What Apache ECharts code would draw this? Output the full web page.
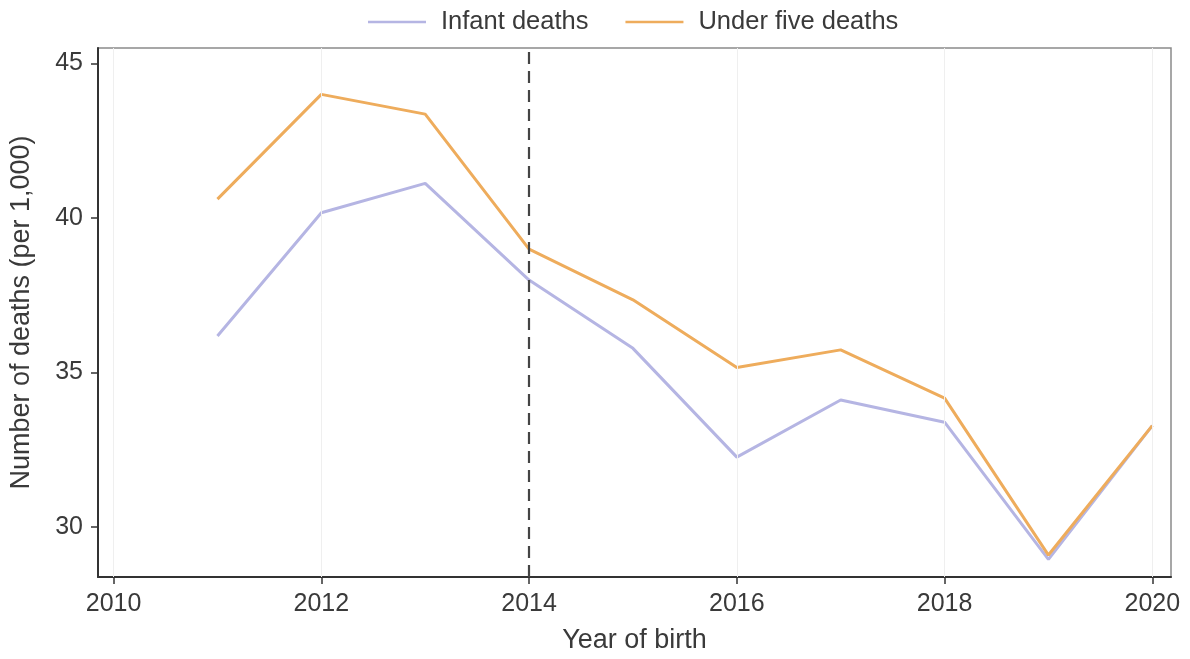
<!DOCTYPE html>
<html>
<head>
<meta charset="utf-8">
<script src="https://cdn.jsdelivr.net/npm/echarts@6/dist/echarts.min.js"></script>
<style>
html,body{margin:0;padding:0;background:#fff;}
#main{width:1190px;height:659px;}
</style>
</head>
<body>
<div id="main"></div>
<script>
const years = [2011, 2012, 2013, 2014, 2015, 2016, 2017, 2018, 2019, 2020];
const infantDeaths = [36.18, 40.17, 41.12, 37.99, 35.78, 32.26, 34.11, 33.39, 28.95, 33.28];
const underFiveDeaths = [40.61, 44.00, 43.36, 38.99, 37.35, 35.16, 35.73, 34.17, 29.09, 33.28];
const xTicks = [2010, 2012, 2014, 2016, 2018, 2020];
const yTicks = [30, 35, 40, 45];
const cutoffYear = 2014;

const FONT = 'Liberation Sans';
const chart = echarts.init(document.getElementById('main'));
chart.setOption({
  animation: false,
  backgroundColor: '#ffffff',
  textStyle: { fontFamily: FONT },
  legend: {
    top: 4,
    left: 363,
    icon: 'rect',
    itemWidth: 58,
    itemHeight: 2.5,
    itemGap: 37,
    textStyle: { fontSize: 25.5, color: '#3a3a3a', fontFamily: FONT, padding: [0, 0, 0, 10] },
    data: ['Infant deaths', 'Under five deaths']
  },
  grid: {
    left: 98, right: 19, top: 48, bottom: 82,
    show: true, borderColor: '#8a8a8a', borderWidth: 1.5
  },
  xAxis: {
    type: 'value',
    min: 2009.85, max: 2020.18,
    name: 'Year of birth',
    nameLocation: 'middle',
    nameGap: 50,
    nameTextStyle: { fontSize: 27, color: '#3a3a3a', fontFamily: FONT },
    axisLine: { show: true, lineStyle: { color: '#333', width: 2 } },
    axisTick: { show: true, length: 7, customValues: xTicks, lineStyle: { color: '#333', width: 1.5 } },
    axisLabel: { customValues: xTicks, fontSize: 25, color: '#3a3a3a', margin: 15, fontFamily: FONT, formatter: v => String(v) },
    splitLine: { show: false }
  },
  yAxis: {
    type: 'value',
    min: 28.38, max: 45.5,
    name: 'Number of deaths (per 1,000)',
    nameLocation: 'middle',
    nameGap: 63,
    nameTextStyle: { fontSize: 27, color: '#3a3a3a', fontFamily: FONT },
    axisLine: { show: true, lineStyle: { color: '#333', width: 2 } },
    axisTick: { show: true, length: 7, customValues: yTicks, lineStyle: { color: '#333', width: 1.5 } },
    axisLabel: { customValues: yTicks, fontSize: 25, color: '#3a3a3a', margin: 15, fontFamily: FONT },
    splitLine: { show: false }
  },
  series: [
    {
      name: 'Infant deaths',
      type: 'line',
      symbol: 'none',
      data: years.map((y, i) => [y, infantDeaths[i]]),
      lineStyle: { color: '#b5b5e3', width: 3 },
      itemStyle: { color: '#b5b5e3' },
      z: 3,
      markLine: {
        silent: true,
        symbol: 'none',
        label: { show: false },
        lineStyle: { color: '#efefef', width: 1, type: 'solid' },
        data: xTicks.filter(v => v !== cutoffYear).map(v => ({ xAxis: v }))
      }
    },
    {
      name: 'Under five deaths',
      type: 'line',
      symbol: 'none',
      data: years.map((y, i) => [y, underFiveDeaths[i]]),
      lineStyle: { color: '#eeac5c', width: 3 },
      itemStyle: { color: '#eeac5c' },
      z: 4,
      markLine: {
        silent: true,
        symbol: 'none',
        label: { show: false },
        lineStyle: { color: '#444', width: 2.2, type: [12, 7] },
        data: [{ xAxis: cutoffYear }],
        z: 5
      }
    }
  ]
});
</script>
</body>
</html>
